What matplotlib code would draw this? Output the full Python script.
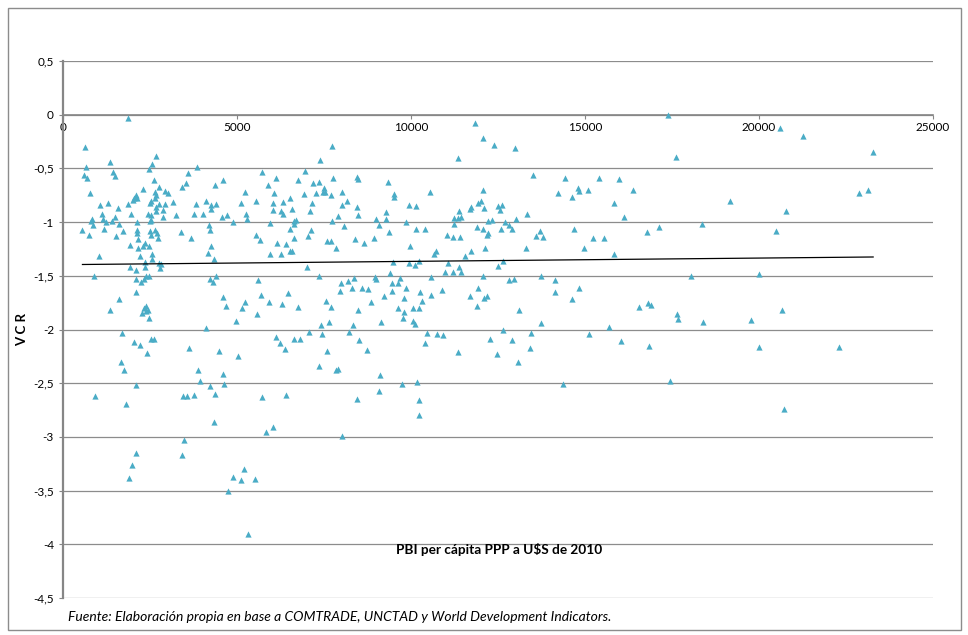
import matplotlib
matplotlib.use('Agg')
import matplotlib.pyplot as plt
import numpy as np
from matplotlib.patches import Rectangle

# Points (PBI per capita, VCR)
pbi = [
    1872, 636, 1360, 2682, 665, 2546, 607, 704, 1427, 1484, 2469, 3857, 3596, 2604, 3538, 3423,
    2285, 2758, 2922, 3018, 2643, 2662, 2643, 2112, 2054, 2015, 2131, 2517, 2498, 762, 1302, 1051,
    1880, 2768, 2922, 3162, 3828, 1581, 2671, 2671, 2864, 1109, 1948, 2440, 2517, 2874, 3260, 3770,
    1484, 820, 800, 1138, 1225, 1408, 2517, 2498, 2122, 849, 1610, 559, 1177, 1716, 2122, 2131,
    2498, 2633, 2690, 2517, 3394, 742, 1514, 2739, 3674, 2141, 2363, 2295, 2469, 1918, 2150, 2566,
    2546, 2218, 1032, 2353, 2353, 2768, 2806, 2787, 1918, 2102, 878, 2372, 2479, 2112, 2228, 2334,
    2102, 1610, 1340, 2392, 2314, 2440, 2382, 2276, 2469, 1687, 2035, 2218, 2517, 2604, 2411, 3616,
    1658, 1745, 3886, 3943, 2112, 926, 1802, 3443, 3567, 3761,
    5844, 6026, 3472, 2102, 3433, 1996, 1890, 5188, 4889, 5111, 5506, 4754, 5323,
    7724, 7386, 5708, 6952, 6125, 6740, 7762, 4609, 4378, 5882, 7193, 7348, 7493, 7464, 7531, 5236,
    6075, 6923, 7261, 7704, 6530, 4117, 5121, 5555, 6046, 6336, 7165, 4253, 4389, 4253, 6036, 6258,
    6327, 6576, 7097, 4030, 4580, 4716, 5256, 5274, 4880, 5951, 6634, 6692, 6634, 7733, 4195, 4224,
    6518, 7117, 5555, 5670, 6645, 7050, 6142, 6402, 7600, 7704, 7849, 4243, 4166, 5960, 6268, 6509,
    6588, 4331, 7010, 7368, 4234, 4321, 4398, 5593,
    4600, 5679, 6460, 5236, 5922, 6287, 4696, 5130, 6740, 7571, 7704, 5584, 4957, 7647, 7427, 4117,
    7068, 7455, 6133, 6229, 6365, 6625, 6818, 4494, 5043, 7589, 7358, 4609, 4215, 4620, 4360, 5719,
    6413, 7849, 4340,
    11350, 8448, 8486, 9353, 8023, 9498, 9518, 10551, 8158, 8014, 8457, 9932, 10134, 11737, 11708, 7889,
    8486, 9295, 9295, 11370, 11437, 11245, 11350, 9006, 9093, 9865, 10145, 10406, 8080, 11225, 9373, 11022,
    11196, 11398, 8399, 8641, 8931, 9962, 10667, 10714, 11552, 11737, 9489, 9941, 10105, 10221, 11051, 11379,
    11437, 10985, 11196, 9402, 9672, 8960, 8989, 8361, 8196, 10570, 9440, 9625, 7985,
    7965, 8303, 8583, 8766, 9451, 9856, 10270, 10570, 10878, 11698, 9220, 9798, 10308, 8852, 8486, 9625,
    10068, 10241, 9788, 9769, 9133, 10047, 10105, 8341, 8207, 10453, 10753, 10907, 8505, 10406, 8746, 11341,
    7889, 9113, 9740, 10163, 9093, 8448, 10231, 10221, 8014,
    11842, 12055, 12391, 12999, 13519, 14427, 15399, 15969, 12055, 14214, 14792, 14821, 15081, 16377, 14638, 11919,
    12015, 15834, 12093, 12498, 12604, 12565, 13346, 16123, 12209, 12333, 12700, 12807, 12902, 13019, 11890, 12064,
    12180, 12199, 12585, 13713, 13606, 13800, 14696, 15226, 15544, 16780, 12131, 13317, 14966, 15834, 12652, 12507,
    12073, 12807, 12951, 13742, 14127,
    11929, 12102, 12170, 11890, 13105, 14147, 14821, 14638, 16546, 16806, 13722, 12633, 13462, 12266, 12893, 15110,
    15699, 16036, 13433, 12478, 13086, 14378, 16837,
    17387, 20607, 21253, 17627, 23280, 19160, 22884, 23124, 20780, 18350, 17135, 20502, 18052, 20000,
    16895, 17656, 17685, 18400, 19768, 20656, 20011, 22285, 17454, 20723,
]
vcr = [
    -0.03, -0.30, -0.44, -0.38, -0.49, -0.46, -0.56, -0.59, -0.53, -0.57, -0.51, -0.49, -0.54, -0.61, -0.64, -0.67,
    -0.69, -0.67, -0.71, -0.73, -0.72, -0.75, -0.78, -0.75, -0.78, -0.79, -0.78, -0.80, -0.82, -0.73, -0.82, -0.84,
    -0.83, -0.83, -0.83, -0.81, -0.83, -0.87, -0.86, -0.90, -0.89, -0.92, -0.92, -0.92, -0.93, -0.95, -0.93, -0.92,
    -0.95, -0.97, -0.99, -0.97, -1.00, -0.99, -0.98, -0.99, -1.00, -1.03, -1.02, -1.07, -1.06, -1.08, -1.07, -1.10,
    -1.08, -1.07, -1.10, -1.12, -1.09, -1.12, -1.13, -1.15, -1.15, -1.16, -1.19, -1.22, -1.22, -1.21, -1.24, -1.30,
    -1.34, -1.32, -1.32, -1.37, -1.42, -1.38, -1.39, -1.43, -1.42, -1.45, -1.50, -1.50, -1.50, -1.53, -1.56, -1.53,
    -1.65, -1.72, -1.82, -1.78, -1.80, -1.82, -1.83, -1.85, -1.89, -2.03, -2.12, -2.14, -2.09, -2.09, -2.22, -2.17,
    -2.30, -2.38, -2.38, -2.48, -2.52, -2.62, -2.69, -2.62, -2.62, -2.61,
    -2.95, -2.91, -3.03, -3.15, -3.17, -3.26, -3.38, -3.30, -3.37, -3.40, -3.39, -3.50, -3.90,
    -0.29, -0.42, -0.53, -0.52, -0.59, -0.61, -0.59, -0.61, -0.65, -0.65, -0.64, -0.63, -0.68, -0.72, -0.72, -0.72,
    -0.73, -0.74, -0.73, -0.75, -0.78, -0.80, -0.82, -0.80, -0.82, -0.81, -0.82, -0.84, -0.83, -0.88, -0.89, -0.90,
    -0.92, -0.88, -0.90, -0.92, -0.95, -0.93, -0.92, -0.97, -1.00, -1.01, -0.99, -0.98, -1.02, -0.99, -1.03, -1.07,
    -1.06, -1.07, -1.12, -1.17, -1.15, -1.13, -1.19, -1.20, -1.18, -1.18, -1.24, -1.22, -1.29, -1.30, -1.30, -1.27,
    -1.27, -1.34, -1.42, -1.50, -1.53, -1.56, -1.50, -1.54,
    -1.70, -1.68, -1.66, -1.74, -1.74, -1.76, -1.78, -1.80, -1.79, -1.73, -1.79, -1.86, -1.92, -1.93, -1.96, -1.99,
    -2.02, -2.04, -2.07, -2.13, -2.18, -2.09, -2.09, -2.20, -2.25, -2.20, -2.34, -2.41, -2.53, -2.51, -2.60, -2.63,
    -2.61, -2.38, -2.86,
    -0.40, -0.58, -0.60, -0.63, -0.72, -0.74, -0.77, -0.72, -0.80, -0.84, -0.86, -0.84, -0.85, -0.86, -0.88, -0.94,
    -0.93, -0.91, -0.97, -0.90, -0.95, -0.96, -0.96, -0.97, -1.03, -1.00, -1.06, -1.06, -1.04, -1.02, -1.09, -1.12,
    -1.14, -1.14, -1.16, -1.19, -1.15, -1.22, -1.30, -1.27, -1.32, -1.27, -1.37, -1.38, -1.40, -1.36, -1.38, -1.42,
    -1.46, -1.46, -1.46, -1.47, -1.52, -1.51, -1.53, -1.52, -1.55, -1.51, -1.57, -1.57, -1.57,
    -1.64, -1.61, -1.61, -1.62, -1.64, -1.61, -1.65, -1.68, -1.63, -1.69, -1.69, -1.71, -1.73, -1.74, -1.82, -1.80,
    -1.80, -1.80, -1.84, -1.89, -1.93, -1.92, -1.95, -1.96, -2.02, -2.03, -2.04, -2.05, -2.10, -2.13, -2.19, -2.21,
    -2.37, -2.42, -2.51, -2.49, -2.57, -2.65, -2.66, -2.80, -2.99,
    -0.08, -0.22, -0.28, -0.31, -0.56, -0.59, -0.59, -0.60, -0.70, -0.73, -0.68, -0.71, -0.70, -0.70, -0.77, -0.82,
    -0.80, -0.82, -0.87, -0.85, -0.84, -0.89, -0.92, -0.95, -0.99, -0.98, -1.00, -1.03, -1.06, -0.97, -1.05, -1.06,
    -1.12, -1.10, -1.06, -1.08, -1.13, -1.14, -1.06, -1.15, -1.15, -1.09, -1.24, -1.24, -1.24, -1.30, -1.36, -1.41,
    -1.50, -1.54, -1.53, -1.50, -1.54,
    -1.61, -1.71, -1.69, -1.78, -1.82, -1.65, -1.61, -1.72, -1.79, -1.75, -1.94, -2.00, -2.03, -2.09, -2.10, -2.04,
    -1.98, -2.11, -2.17, -2.23, -2.30, -2.51, -2.15,
    0.00, -0.12, -0.20, -0.39, -0.35, -0.80, -0.73, -0.70, -0.90, -1.02, -1.05, -1.08, -1.50, -1.48,
    -1.77, -1.86, -1.90, -1.93, -1.91, -1.82, -2.16, -2.16, -2.48, -2.74,
]

y_ticks = [0.5, 0, -0.5, -1, -1.5, -2, -2.5, -3, -3.5, -4, -4.5]
y_tick_labels = ['0,5', '0', '-0,5', '-1', '-1,5', '-2', '-2,5', '-3', '-3,5', '-4', '-4,5']
x_ticks = [0, 5000, 10000, 15000, 20000, 25000]

plt.rcParams['font.family'] = ['Lato', 'DejaVu Sans']

fig = plt.figure(figsize=(9.68, 6.35), dpi=100)
ax = fig.add_axes([63 / 968, 1 - 598 / 635, (933 - 63) / 968, (598 - 61) / 635])

grid_color = '#8c8c8c'
for yv in y_ticks:
    ax.axhline(yv, color=grid_color, lw=0.9, zorder=1)

ax.scatter(pbi, vcr, marker='^', s=20, color='#4aacc6', linewidths=0, zorder=3)

# linear trend line, as in the spreadsheet
x_arr = np.array(pbi, dtype=float)
coef = np.polyfit(x_arr, np.array(vcr), 1)
xs = np.array([x_arr.min(), x_arr.max()])
ax.plot(xs, np.polyval(coef, xs), color='black', lw=0.9, zorder=4)

ax.set_xlim(0, 25000)
ax.set_ylim(-4.5, 0.5)
ax.set_yticks(y_ticks)
ax.set_yticklabels(y_tick_labels)
ax.set_xticks(x_ticks)
ax.set_xticklabels([str(v) for v in x_ticks])

ax.spines['top'].set_visible(False)
ax.spines['right'].set_visible(False)
ax.spines['left'].set_color('#868686')
ax.spines['left'].set_linewidth(1.6)
ax.spines['bottom'].set_position(('data', 0))
ax.spines['bottom'].set_color('#868686')
ax.spines['bottom'].set_linewidth(1.2)
ax.tick_params(axis='both', length=3, color='#868686', labelsize=8.5, labelcolor='black')
ax.tick_params(axis='x', pad=2)

ax.set_ylabel('V C R', fontsize=9.5, fontweight='bold', labelpad=4)
fig.text(499 / 968, 1 - 549 / 635, 'PBI per cápita PPP a U$S de 2010', fontsize=9.8,
         fontweight='bold', ha='center', va='center')
fig.text(68 / 968, 1 - 617 / 635,
         'Fuente: Elaboración propia en base a COMTRADE, UNCTAD y World Development Indicators.',
         fontsize=10, style='italic', ha='left', va='center')

fig.patches.append(Rectangle((8 / 968, 1 - 630 / 635), 953 / 968, 622 / 635,
                             transform=fig.transFigure, fill=False,
                             edgecolor='#8c8c8c', lw=1))

fig.savefig('out.png', dpi=100)
